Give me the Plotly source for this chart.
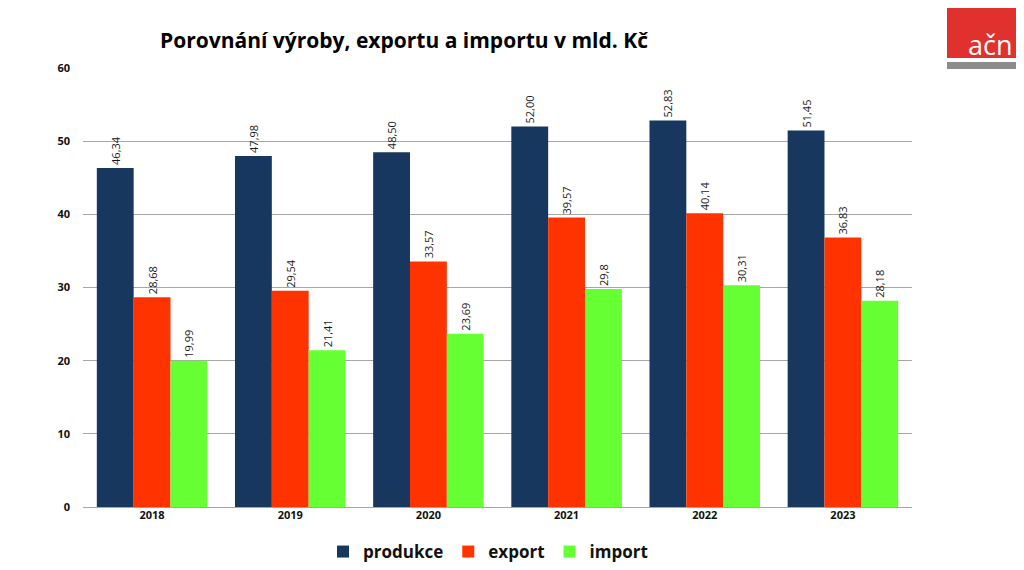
import plotly.graph_objects as go

years = ["2018", "2019", "2020", "2021", "2022", "2023"]
produkce = [46.34, 47.98, 48.50, 52.00, 52.83, 51.45]
export = [28.68, 29.54, 33.57, 39.57, 40.14, 36.83]
imports = [19.99, 21.41, 23.69, 29.8, 30.31, 28.18]
produkce_lbl = ["46,34", "47,98", "48,50", "52,00", "52,83", "51,45"]
export_lbl = ["28,68", "29,54", "33,57", "39,57", "40,14", "36,83"]
import_lbl = ["19,99", "21,41", "23,69", "29,8", "30,31", "28,18"]
y_ticks = [0, 10, 20, 30, 40, 50, 60]

# page body has an 8px margin; figure is sized to fill the rest of the window
OFF = 8
W, H = 1024 - OFF, 570 - OFF
L, T = 83 - OFF, 68 - OFF
R = W - (912 - OFF)
B = H - (507 - OFF)
pw, ph = W - L - R, H - T - B

def px(x):
    return (x - OFF - L) / pw

def py(y):
    return (H - B - (y - OFF)) / ph

FONT = "Open Sans"
fig = go.Figure()
for name, vals, lbls, col in [
    ("produkce", produkce, produkce_lbl, "#17375E"),
    ("export", export, export_lbl, "#FF3300"),
    ("import", imports, import_lbl, "#66FF33"),
]:
    fig.add_trace(go.Bar(
        x=years, y=vals, name=name, marker=dict(color=col, line=dict(width=0)),
        text=lbls, textposition="outside", textangle=-90,
        textfont=dict(family=FONT, size=11, color="#1a1a1a"),
        cliponaxis=False, constraintext="none",
    ))

fig.update_layout(
    width=W, height=H, autosize=False,
    margin=dict(l=L, r=R, t=T, b=B, autoexpand=False),
    paper_bgcolor="white", plot_bgcolor="white",
    barmode="group", bargap=0.2, bargroupgap=0,
    font=dict(family=FONT, color="#111111"),
    showlegend=True,
    legend=dict(orientation="h", x=px(488), xanchor="center", y=py(552), yanchor="middle",
                font=dict(family=FONT, size=17, color="#111111", weight="bold"),
                itemwidth=30, traceorder="normal"),
    xaxis=dict(showgrid=False, showline=False, ticks="",
               tickfont=dict(family=FONT, size=11, color="#111111", weight="bold")),
    yaxis=dict(range=[0, 60], tickvals=y_ticks, showgrid=True, gridcolor="#A6A6A6", gridwidth=1,
               zeroline=True, zerolinecolor="#A6A6A6", zerolinewidth=1, showline=False, ticks="",
               ticklabelstandoff=12,
               tickfont=dict(family=FONT, size=11, color="#111111", weight="bold")),
)

fig.add_annotation(
    text="Porovnání výroby, exportu a importu v mld. Kč",
    xref="paper", yref="paper", x=px(158), y=py(40), xanchor="left", yanchor="middle",
    showarrow=False, font=dict(family=FONT, size=21, color="#000000", weight="bold"),
)

# logo
fig.add_shape(type="rect", xref="paper", yref="paper", x0=px(947), x1=px(1020), y0=py(58), y1=py(0),
              fillcolor="#E1312F", line=dict(width=0), layer="above")
fig.add_shape(type="rect", xref="paper", yref="paper", x0=px(947), x1=px(1020), y0=py(69), y1=py(62),
              fillcolor="#8C8C8C", line=dict(width=0), layer="above")
fig.add_annotation(text="ačn", xref="paper", yref="paper", x=px(990), y=py(44), xanchor="center",
                   yanchor="middle", showarrow=False,
                   font=dict(family=FONT, size=27, color="white"))

fig.write_html("out.html")
